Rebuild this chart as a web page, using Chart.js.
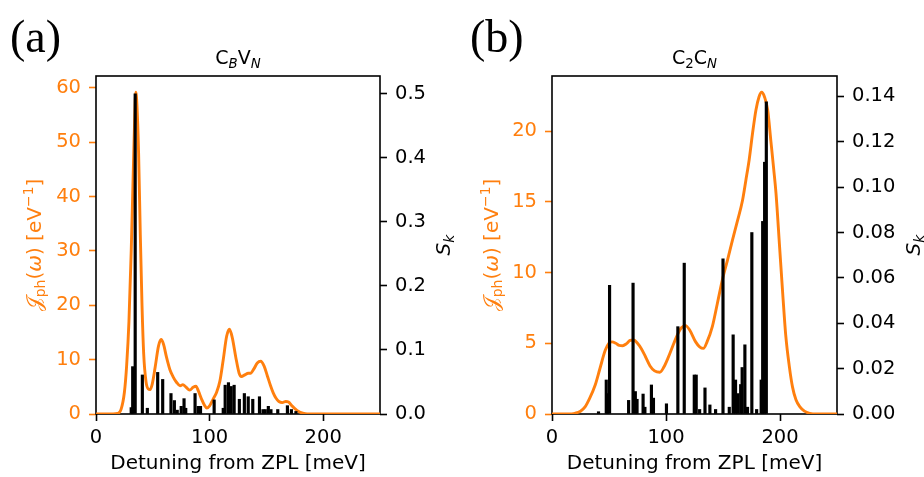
<!DOCTYPE html>
<html>
<head>
<meta charset="utf-8">
<script src="https://cdn.jsdelivr.net/npm/chart.js@4.4.1/dist/chart.umd.min.js"></script>
<style>
  html, body { margin: 0; padding: 0; background: #fff; }
  #wrap { position: relative; width: 924px; height: 477px; }
  .panel { position: absolute; top: 0; width: 462px; height: 477px; }
</style>
</head>
<body>
<div id="wrap">
  <div class="panel" style="left:0"><canvas id="chartA" width="462" height="477"></canvas></div>
  <div class="panel" style="left:462px"><canvas id="chartB" width="462" height="477"></canvas></div>
</div>
<script>
// ---------- Data: panel (a) C_B V_N ----------
const cbvnLineX = [0, 15, 19, 22, 25, 27, 29, 31, 32.5, 34, 35, 36, 37.5, 39, 40.5, 42, 44, 46, 47.6, 49.5,
  52, 55, 57.3, 59.5, 62, 65, 68, 71, 74, 76.5, 79, 82.5, 85.5, 88, 90, 93, 95.5, 97.5, 100, 103,
  106, 109, 112, 115, 117.5, 120, 123, 126, 128, 131, 134, 136, 139, 142, 145, 148, 151, 153.5, 156, 158.5,
  161, 164, 167, 169.5, 172, 175, 178, 182, 186, 250];
const cbvnLineY = [0, 0, 0.1, 0.8, 4, 9, 17, 30, 42, 54, 59.2, 57, 48, 33, 20, 11, 6, 4.6, 4.5, 5.5,
  8.5, 12.5, 13.7, 12.8, 10.5, 8.2, 6.8, 5.8, 5.2, 5.4, 5.0, 4.4, 4.9, 5.1, 4.3, 2.7, 1.6, 1.1, 1.5, 2.7,
  3.9, 6.0, 10, 14.3, 15.6, 14, 10.5, 7.5, 6.9, 7.2, 7.5, 7.5, 8.3, 9.4, 9.7, 8.8, 6.9, 5.3, 3.9, 2.9,
  2.3, 2.1, 2.3, 2.2, 1.6, 1.0, 0.5, 0.15, 0, 0];
const cbvnModeX = [31, 32.3, 34.5, 40.8, 45.2, 54.3, 58.7, 66, 69, 71.5, 75, 77.5, 79, 87.2, 90, 92,
  104, 112, 113.7, 116.6, 119, 121.6, 126.2, 130.6, 134, 138, 143.9, 147, 149, 151.7, 154, 160,
  168.5, 172, 176];
const cbvnModeS = [0.01, 0.074, 0.50, 0.061, 0.009, 0.065, 0.054, 0.032, 0.021, 0.006, 0.012, 0.024, 0.009, 0.032, 0.012, 0.012,
  0.022, 0.009, 0.045, 0.049, 0.043, 0.045, 0.023, 0.032, 0.027, 0.023, 0.027, 0.007, 0.007, 0.012, 0.007, 0.007,
  0.013, 0.007, 0.004];
const cbvnJTicks = [0, 10, 20, 30, 40, 50, 60];
const cbvnSTicks = [0, 0.1, 0.2, 0.3, 0.4, 0.5];

// ---------- Data: panel (b) C_2 C_N ----------
const c2cnLineX = [0, 15, 20, 25, 29, 33, 37.9, 42, 46.7, 50, 52.6, 56, 59, 62, 65, 68.5, 71.7, 75, 78.5, 82,
  86, 90, 94.6, 98, 102, 106.9, 110, 113.5, 117.2, 121, 126, 129.5, 132.8, 136, 140.7, 145, 149.5, 154, 158.3, 162.5,
  167.1, 170, 173, 176, 178.9, 181.5, 183.9, 186.5, 189.2, 192, 194.5, 196.5, 199.5, 202.4, 205, 208.2, 211, 214, 217.5, 221.4,
  226, 232, 250];
const c2cnLineY = [0, 0, 0.05, 0.2, 0.5, 1.1, 2.05, 3.2, 4.5, 5.0, 5.1, 5.0, 4.85, 4.83, 4.95, 5.2, 5.23, 5.0, 4.6, 4.05,
  3.4, 3.05, 2.95, 3.3, 4.0, 5.0, 5.6, 6.1, 6.25, 5.9, 5.1, 4.75, 4.64, 5.1, 6.2, 7.8, 9.5, 10.9, 12.3, 13.6,
  15.1, 16.5, 18.0, 19.9, 21.5, 22.4, 22.75, 22.4, 21.5, 19.3, 17.3, 15.6, 12.0, 8.5, 5.6, 3.35, 1.9, 1.0, 0.5, 0.2,
  0.05, 0, 0];
const c2cnModeX = [40.8, 47.6, 48.8, 50.5, 67.2, 71.1, 73.1, 74.6, 79.9, 81.5, 87.2, 89, 100.4, 110.4, 116, 124.8,
  126.5, 129.5, 134.2, 138.5, 143.5, 150, 155.5, 158.9, 161, 163, 165.5, 166.8, 169.2, 171.5, 175.3, 179.5,
  183.5, 184.8, 186.5, 188];
const c2cnModeS = [0.001, 0.015, 0.009, 0.0567, 0.006, 0.0577, 0.0099, 0.0065, 0.0088, 0.003, 0.0128, 0.007, 0.0045, 0.0385, 0.0665, 0.0172,
  0.0172, 0.002, 0.0115, 0.004, 0.002, 0.0684, 0.003, 0.0349, 0.015, 0.009, 0.013, 0.0205, 0.0305, 0.003, 0.080, 0.002,
  0.015, 0.0849, 0.111, 0.1376];
const c2cnJTicks = [0, 5, 10, 15, 20];
const c2cnSTicks = [0, 0.02, 0.04, 0.06, 0.08, 0.10, 0.12, 0.14];

const xTicks = [0, 100, 200];
const xLabel = 'Detuning from ZPL [meV]';

// ---------- Style ----------
const ORANGE = '#ff7f0e';
const FONT = '"DejaVu Sans", sans-serif';
const TICK_SIZE = 19.5;
const LABEL_SIZE = 20;
const TITLE_SIZE = 19;

// ---------- Rich text helpers (sub/superscripts) ----------
function partFont(p, size) {
  const sz = p.s ? size * 0.7 : size;
  return (p.i ? 'italic ' : '') + sz + 'px ' + (p.f || FONT);
}

function richWidth(ctx, parts, size) {
  let w = 0;
  for (const p of parts) {
    ctx.font = partFont(p, size);
    w += ctx.measureText(p.t).width;
  }
  return w;
}

function drawRich(ctx, parts, cx, baseY, size, color) {
  let x = cx - richWidth(ctx, parts, size) / 2;
  ctx.fillStyle = color;
  ctx.textAlign = 'left';
  ctx.textBaseline = 'alphabetic';
  for (const p of parts) {
    ctx.font = partFont(p, size);
    const dy = p.s === 'sub' ? size * 0.22 : p.s === 'sup' ? -size * 0.42 : 0;
    ctx.fillText(p.t, x, baseY + dy);
    x += ctx.measureText(p.t).width;
  }
}

const jLabel = [
  { t: '\u{1D4A5}', i: false },
  { t: 'ph', s: 'sub' },
  { t: '(' },
  { t: '\u03C9', i: true },
  { t: ') [eV' },
  { t: '\u22121', s: 'sup' },
  { t: ']' }
];
const sLabel = [{ t: 'S', i: true }, { t: 'k', i: true, s: 'sub' }];

// frame + texts drawn around the chart area
const annotPlugin = {
  id: 'annot',
  beforeDatasetsDraw(chart) {
    const { ctx, chartArea: a } = chart;
    ctx.save();
    ctx.strokeStyle = '#000';
    ctx.lineWidth = 1.6;
    ctx.strokeRect(a.left, a.top, a.right - a.left, a.bottom - a.top);
    ctx.restore();
  },
  afterDraw(chart, args, opts) {
    const { ctx, chartArea: a } = chart;
    const midY = (a.top + a.bottom) / 2;
    ctx.save();
    // panel letter
    ctx.font = '46px "Liberation Serif", "Times New Roman", serif';
    ctx.fillStyle = '#000';
    ctx.textAlign = 'left';
    ctx.textBaseline = 'alphabetic';
    ctx.fillText(opts.panel, opts.panelX, 52);
    // title
    drawRich(ctx, opts.title, (a.left + a.right) / 2, 64, TITLE_SIZE, '#000');
    // left axis label
    ctx.save();
    ctx.translate(opts.leftLabelX, midY);
    ctx.rotate(-Math.PI / 2);
    drawRich(ctx, jLabel, 0, 0, LABEL_SIZE, ORANGE);
    ctx.restore();
    // right axis label
    ctx.save();
    ctx.translate(opts.rightLabelX, midY);
    ctx.rotate(-Math.PI / 2);
    drawRich(ctx, sLabel, 0, 0, LABEL_SIZE, '#000');
    ctx.restore();
    ctx.restore();
  }
};

function setTicks(values) {
  return scale => { scale.ticks = values.map(v => ({ value: v })); };
}

function makeChart(id, cfg) {
  return new Chart(document.getElementById(id), {
    type: 'bar',
    data: {
      datasets: [
        {
          type: 'bar',
          data: cfg.modeX.map((x, i) => ({ x, y: cfg.modeS[i] })),
          yAxisID: 'yS',
          backgroundColor: '#000',
          barThickness: 2.5,
          order: 0
        },
        {
          type: 'line',
          data: cfg.lineX.map((x, i) => ({ x, y: cfg.lineY[i] })),
          yAxisID: 'yJ',
          borderColor: ORANGE,
          borderWidth: 2.9,
          pointRadius: 0,
          fill: false,
          cubicInterpolationMode: 'monotone',
          order: 1
        }
      ]
    },
    options: {
      responsive: false,
      animation: false,
      events: [],
      layout: { padding: { top: 76, left: 0, right: 0, bottom: 0 } },
      plugins: { legend: { display: false }, tooltip: { enabled: false }, annot: cfg.annot },
      scales: {
        x: {
          type: 'linear', position: 'bottom', min: 0, max: 250, offset: false,
          afterFit: s => { s.height = 63; },
          afterBuildTicks: setTicks(xTicks),
          border: { display: false },
          grid: { drawOnChartArea: false, offset: false, tickLength: 7, tickWidth: 1.6, tickColor: '#000' },
          ticks: { font: { family: FONT, size: TICK_SIZE }, color: '#000', padding: 5, maxRotation: 0, autoSkip: false },
          title: { display: true, text: xLabel, font: { family: FONT, size: LABEL_SIZE }, color: '#000', padding: { top: 0, bottom: 1 } }
        },
        yJ: {
          type: 'linear', position: 'left', min: 0, max: cfg.jMax,
          afterFit: s => { s.width = cfg.leftW; },
          afterBuildTicks: setTicks(cfg.jTicks),
          border: { display: false },
          grid: { drawOnChartArea: false, tickLength: 7, tickWidth: 1.6, tickColor: ORANGE },
          ticks: { font: { family: FONT, size: TICK_SIZE }, color: ORANGE, padding: 8, autoSkip: false }
        },
        yS: {
          type: 'linear', position: 'right', min: 0, max: cfg.sMax,
          afterFit: s => { s.width = cfg.rightW; },
          afterBuildTicks: setTicks(cfg.sTicks),
          border: { display: false },
          grid: { drawOnChartArea: false, tickLength: 7, tickWidth: 1.6, tickColor: '#000' },
          ticks: {
            font: { family: FONT, size: TICK_SIZE }, color: '#000', padding: 8, autoSkip: false,
            callback: v => v.toFixed(cfg.sDigits)
          }
        }
      }
    },
    plugins: [annotPlugin]
  });
}

makeChart('chartA', {
  lineX: cbvnLineX, lineY: cbvnLineY, modeX: cbvnModeX, modeS: cbvnModeS,
  jTicks: cbvnJTicks, sTicks: cbvnSTicks, jMax: 62.2, sMax: 0.528, sDigits: 1,
  leftW: 96, rightW: 82,
  annot: {
    panel: '(a)', panelX: 10, leftLabelX: 41, rightLabelX: 450,
    title: [{ t: 'C' }, { t: 'B', i: true, s: 'sub' }, { t: 'V' }, { t: 'N', i: true, s: 'sub' }]
  }
});

makeChart('chartB', {
  lineX: c2cnLineX, lineY: c2cnLineY, modeX: c2cnModeX, modeS: c2cnModeS,
  jTicks: c2cnJTicks, sTicks: c2cnSTicks, jMax: 23.9, sMax: 0.149, sDigits: 2,
  leftW: 90, rightW: 87,
  annot: {
    panel: '(b)', panelX: 8, leftLabelX: 36, rightLabelX: 458,
    title: [{ t: 'C' }, { t: '2', s: 'sub' }, { t: 'C' }, { t: 'N', i: true, s: 'sub' }]
  }
});
</script>
</body>
</html>
